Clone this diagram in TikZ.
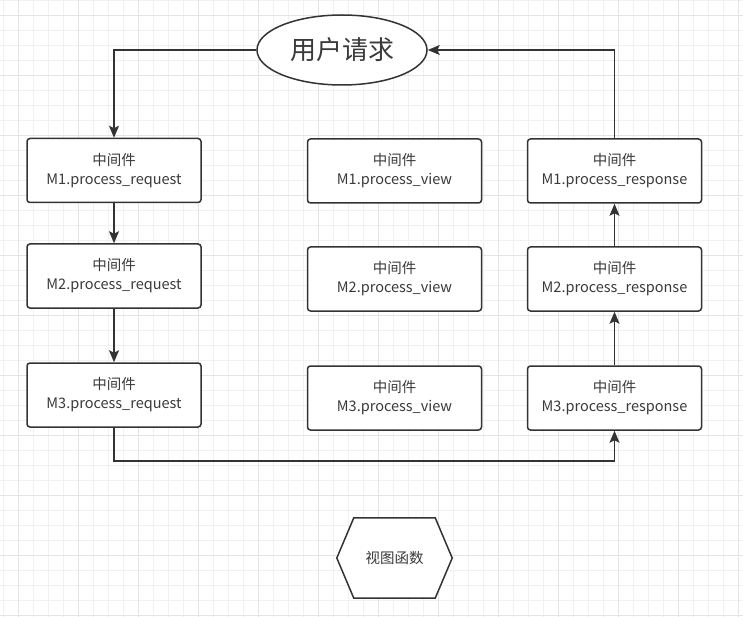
\documentclass[tikz,border=0pt]{standalone}
\usepackage{fontspec}
\setmainfont{Noto Sans CJK SC}
\usetikzlibrary{arrows.meta,shapes.geometric}
\definecolor{ink}{HTML}{333333}
\definecolor{label}{HTML}{3A3A3A}
\definecolor{gridminor}{HTML}{F1F1F1}
\definecolor{gridmajor}{HTML}{E4E4E4}

\begin{document}
\begin{tikzpicture}[x = 1pt, y = -1pt, font = \fontsize{14.5}{19}\selectfont,
        box/.style = {draw = ink, line width = 1.5pt, rounded corners = 3pt, fill = white,
            minimum width = 174pt, minimum height = 64pt, align = center, text = label},
        arr/.style = {draw = ink, line width = 1.5pt, -{Stealth[length = 12pt, width = 10pt, inset = 2.5pt]}}]
        \useasboundingbox (0,0) rectangle (743,617);
        
        % background grid
        \foreach \x in {3,18,...,743} \draw[gridminor, line width = 0.8pt] (\x,0) -- (\x,617);
        \foreach \y in {0,15,...,617} \draw[gridminor, line width = 0.8pt] (0,\y) -- (743,\y);
        \foreach \x in {18,78,...,743} \draw[gridmajor, line width = 0.8pt] (\x,0) -- (\x,617);
        \foreach \y in {15,75,...,617} \draw[gridmajor, line width = 0.8pt] (0,\y) -- (743,\y);
        
        \node[ellipse, draw = ink, line width = 1.5pt, fill = white, text = label,
            minimum width = 170pt, minimum height = 70pt, inner sep = 0pt,
            font = \fontsize{26}{30}\selectfont] (user) at (342,50) {用户请求};
        
        \node[box] (req1) at (114,170.5) {中间件\\M1.process\_request};
        \node[box] (req2) at (114,276) {中间件\\M2.process\_request};
        \node[box] (req3) at (114,395) {中间件\\M3.process\_request};
        
        \node[box] (view1) at (394.5,171) {中间件\\M1.process\_view};
        \node[box] (view2) at (394.5,279) {中间件\\M2.process\_view};
        \node[box] (view3) at (394.5,398) {中间件\\M3.process\_view};
        
        \node[box] (resp1) at (614.5,171) {中间件\\M1.process\_response};
        \node[box] (resp2) at (614.5,279) {中间件\\M2.process\_response};
        \node[box] (resp3) at (614.5,398) {中间件\\M3.process\_response};
        
        % view function hexagon
        \node[minimum width = 115pt, minimum height = 80pt] (func) at (394.5,558) {};
        \draw[draw = ink, line width = 1.5pt, fill = white]
        (func.west) -- ([xshift = 17pt]func.north west) -- ([xshift = -17pt]func.north east) --
        (func.east) -- ([xshift = -17pt]func.south east) -- ([xshift = 17pt]func.south west) -- cycle;
        \node[text = label] (functext) at (func) {视图函数};
        
        \draw[arr] (user.west) -| (req1.north);
        \draw[arr] (req1.south) -- (req2.north);
        \draw[arr] (req2.south) -- (req3.north);
        \draw[arr] (req3.south) -- ++(0,33) -| (resp3.south);
        \draw[arr] (resp3.north) -- (resp2.south);
        \draw[arr] (resp2.north) -- (resp1.south);
        \draw[arr] (resp1.north) |- (user.east);
    \end{tikzpicture}
\end{document}
